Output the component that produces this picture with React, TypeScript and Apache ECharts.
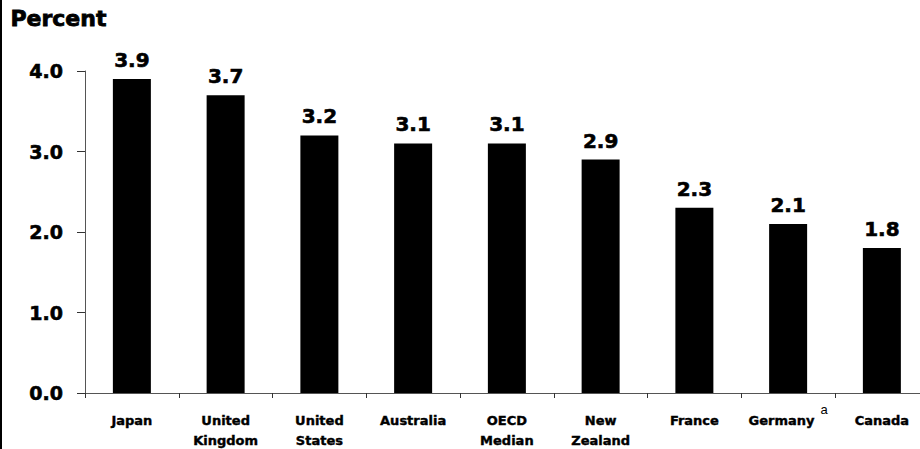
import React, { useEffect, useRef } from "react";
import * as echarts from "echarts";

const categories = [
  "Japan",
  "United\nKingdom",
  "United\nStates",
  "Australia",
  "OECD\nMedian",
  "New\nZealand",
  "France",
  "Germany",
  "Canada",
];
const values = [3.9, 3.7, 3.2, 3.1, 3.1, 2.9, 2.3, 2.1, 1.8];
const yTicks = [0, 1, 2, 3, 4];
const axisTitle = "Percent";

const FONT = "'DejaVu Sans', 'Liberation Sans', Arial, sans-serif";
const SFONT = "'Liberation Sans', Arial, sans-serif";

export default function App() {
  const ref = useRef<HTMLDivElement>(null);
  useEffect(() => {
    if (!ref.current) return;
    const chart = echarts.init(ref.current, undefined, { renderer: "svg" });
    chart.setOption({
      animation: false,
      backgroundColor: "#ffffff",
      grid: {
        left: 85,
        right: -8.75,
        top: 71,
        bottom: 56,
        containLabel: false,
        outerBoundsMode: "none",
      },
      graphic: [
        {
          type: "line",
          shape: { x1: 1, y1: 0, x2: 1, y2: 449 },
          style: { stroke: "#000", lineWidth: 2 },
        },
        {
          type: "text",
          left: 10,
          top: 7,
          style: {
            text: axisTitle,
            font: `bold 22px ${FONT}`,
            fill: "#000",
            stroke: "#000",
            lineWidth: 0.8,
          },
        },
      ],
      xAxis: {
        type: "category",
        data: categories,
        axisLine: { lineStyle: { color: "#555", width: 1 } },
        axisTick: { show: true, length: 5, lineStyle: { color: "#333" } },
        axisLabel: {
          interval: 0,
          margin: 17,
          fontFamily: FONT,
          fontWeight: "bold",
          fontSize: 13,
          lineHeight: 20,
          color: "#000",
          textBorderColor: "#000",
          textBorderWidth: 0.4,
          formatter: (v: string) => (v === "Germany" ? "Germany{sup|a}" : v),
          rich: {
            sup: {
              fontFamily: SFONT,
              fontSize: 13,
              fontWeight: "normal",
              color: "#000",
              textBorderWidth: 0,
              verticalAlign: "bottom",
              padding: [0, 0, 14, 6],
            },
          },
        },
      },
      yAxis: {
        type: "value",
        min: 0,
        max: 4,
        interval: 1,
        splitLine: { show: false },
        axisLine: { show: true, lineStyle: { color: "#555", width: 1 } },
        axisTick: { show: true, length: 8, inside: false, lineStyle: { color: "#333" } },
        axisLabel: {
          margin: 22,
          fontFamily: FONT,
          fontWeight: "bold",
          fontSize: 19,
          color: "#000",
          textBorderColor: "#000",
          textBorderWidth: 0.6,
          formatter: (v: number) => (yTicks.includes(v) ? v.toFixed(1) : ""),
        },
      },
      series: [
        {
          type: "bar",
          data: values,
          barWidth: 38,
          itemStyle: { color: "#000" },
          label: {
            show: true,
            position: "top",
            distance: 9,
            fontFamily: FONT,
            fontWeight: "bold",
            fontSize: 20,
            color: "#000",
            textBorderColor: "#000",
            textBorderWidth: 0.6,
            formatter: (p: any) => p.value.toFixed(1),
          },
        },
      ],
    });
    return () => chart.dispose();
  }, []);
  return (
    <div
      ref={ref}
      style={{ position: "absolute", left: 0, top: 0, width: 920, height: 449, overflow: "hidden" }}
    />
  );
}
